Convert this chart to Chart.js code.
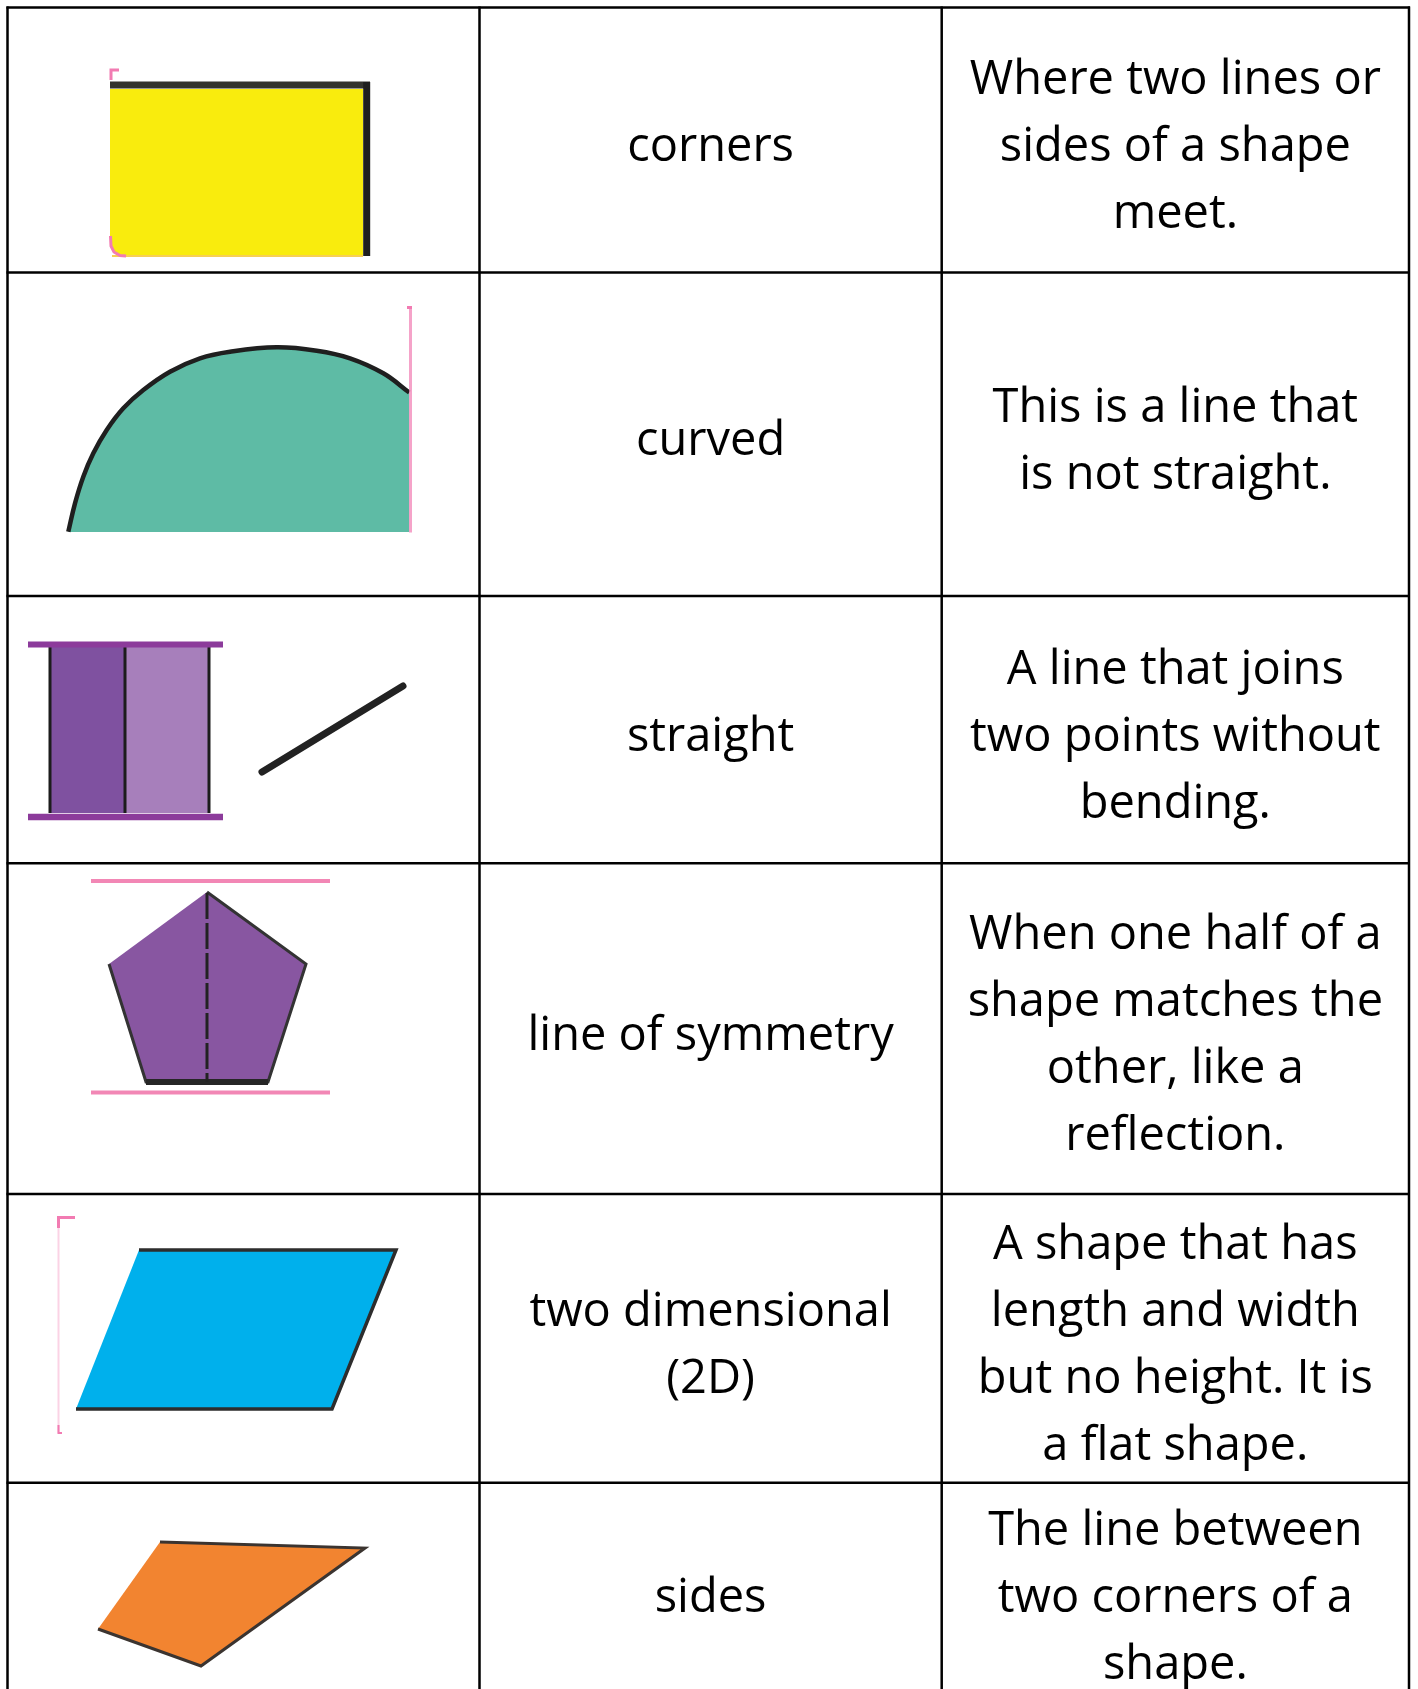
<!DOCTYPE html>
<html>
<head>
<meta charset="utf-8">
<script src="https://cdn.jsdelivr.net/npm/chart.js@4.4.0/dist/chart.umd.min.js"></script>
<style>
html, body { margin: 0; padding: 0; background: #fff; }
#wrap { position: relative; width: 1418px; height: 1689px; overflow: hidden; }
#sheet { position: absolute; left: 0; top: 0; }
.cell {
    position: absolute;
    box-sizing: border-box;
    padding-top: 7px;
    display: flex;
    align-items: center;
    justify-content: center;
    text-align: center;
    white-space: pre;
    font-family: "Open Sans", sans-serif;
    font-size: 47px;
    line-height: 67px;
    color: #000;
}
</style>
</head>
<body>
<div id="wrap"><canvas id="sheet" width="1418" height="1689"></canvas></div>
<script>
// table content
let terms = ["corners", "curved", "straight", "line of symmetry", "two dimensional\n(2D)", "sides"];
let definitions = [
    "Where two lines or\nsides of a shape\nmeet.",
    "This is a line that\nis not straight.",
    "A line that joins\ntwo points without\nbending.",
    "When one half of a\nshape matches the\nother, like a\nreflection.",
    "A shape that has\nlength and width\nbut no height. It is\na flat shape.",
    "The line between\ntwo corners of a\nshape."
];

// grid edges (page units)
let columnEdges = [7.5, 479.5, 941.7, 1409];
let rowEdges = [7.5, 272.6, 595.9, 863.2, 1193.9, 1482.7, 1700];

// picture column: outline points of each drawing
let cornerRect = [[110, 89], [363, 89], [363, 256], [122, 256], [114, 252], [111, 246], [110, 238]];
let curveArc = [[68.3, 531.7], [75, 503.3], [83.3, 476.7], [93.3, 453.3], [106.7, 430], [123.3, 408.3],
    [143.3, 390], [170, 371.7], [200, 358.3], [230, 351.7], [276.7, 347.3], [316.7, 350.7],
    [350, 358.3], [383.3, 373.3], [409.3, 392.5]];
let stripDark = [[50, 647], [125, 647], [125, 813], [50, 813]];
let stripLight = [[125, 647], [209, 647], [209, 813], [125, 813]];
let straightSegment = [[262, 772], [403, 686]];
let pentagon = [[207, 892], [306, 964], [268, 1082], [146, 1082], [109, 964]];
let parallelogram = [[139, 1250], [396, 1250], [332, 1409], [76, 1409]];
let quadrilateral = [[160, 1542], [365, 1548], [201, 1666], [98, 1629]];

let pts = arr => arr.map(p => ({ x: p[0], y: p[1] }));

function path(points, color, width, extra) {
    return Object.assign({
        data: pts(points),
        showLine: true,
        borderColor: color,
        borderWidth: width,
        pointRadius: 0,
        fill: false,
        tension: 0
    }, extra || {});
}
function shape(points, fillColor, lineColor, width) {
    return path(points, lineColor, width, { fill: "shape", backgroundColor: fillColor });
}

let datasets = [];

// table grid
columnEdges.forEach(x => datasets.push(path([[x, rowEdges[0] - 1], [x, rowEdges[rowEdges.length - 1] + 40]], "#000", 2.5)));
rowEdges.slice(0, -1).forEach(y => datasets.push(path([[columnEdges[0] - 1, y], [columnEdges[3] + 1, y]], "#000", 2.5)));

// corners
datasets.push(shape(cornerRect, "#F9EC0D", "rgba(0,0,0,0)", 0));
datasets.push(path([[112, 256], [363, 256]], "#F7CF55", 2));
datasets.push(path([[110, 85], [370, 85]], "#33332e", 7));
datasets.push(path([[366.7, 82], [366.7, 256]], "#1f1f1f", 7));
datasets.push(path([[111, 80], [111, 70], [119, 70]], "#F27BB2", 3));
datasets.push(path([[110.5, 236], [111, 246], [114, 252], [120, 255.5], [126, 256]], "#F27BB2", 3));

// curved
datasets.push(path(curveArc, "#1f1f1f", 4.5, { tension: 0.4, fill: { value: 532 }, backgroundColor: "#5EBBA5" }));
datasets.push(path([[410.5, 306], [410.5, 532.5]], "rgba(243,140,188,0.8)", 3));
datasets.push(path([[407, 307.5], [412, 307.5]], "#F27BB2", 3));

// straight
datasets.push(shape(stripDark, "#7F51A0", "rgba(0,0,0,0)", 0));
datasets.push(shape(stripLight, "#A77FBB", "rgba(0,0,0,0)", 0));
[50, 125, 209].forEach(x => datasets.push(path([[x, 647], [x, 813]], "#1c1c1c", 3)));
datasets.push(path([[28, 644.5], [223, 644.5]], "#8C3B9B", 6));
datasets.push(path([[28, 817], [223, 817]], "#8C3B9B", 6.5));
datasets.push(path(straightSegment, "#222", 7, { borderCapStyle: "round" }));

// line of symmetry
datasets.push(path([[91, 881], [330, 881]], "#F287B5", 4));
datasets.push(path([[91, 1092.5], [330, 1092.5]], "#F287B5", 4));
datasets.push(shape(pentagon, "#8856A1", "#333", 3));
datasets.push(path([[146, 1082], [268, 1082]], "#262626", 6));
datasets.push(path([[207, 893], [207, 1082]], "#222", 3, { borderDash: [26, 4] }));

// two dimensional
datasets.push(path([[58.5, 1216], [58.5, 1433]], "#FBD3E5", 2));
datasets.push(path([[58.5, 1228], [58.5, 1217.5], [75, 1217.5]], "#F27BB2", 3));
datasets.push(path([[58.5, 1425], [58.5, 1433], [62, 1433]], "#F27BB2", 2));
datasets.push(shape(parallelogram, "#00B0EC", "#2d2d2d", 3.5));

// sides
datasets.push(shape(quadrilateral, "#F28430", "#3b3430", 3));

// first pushed is painted first
datasets.reverse();

let sheet = new Chart(document.getElementById("sheet").getContext("2d"), {
    type: "scatter",
    data: { datasets: datasets },
    options: {
        responsive: false,
        animation: false,
        events: [],
        layout: { padding: 0 },
        scales: {
            x: { type: "linear", min: 0, max: 1418, display: false },
            y: { type: "linear", min: 0, max: 1689, reverse: true, display: false }
        },
        plugins: {
            legend: { display: false },
            tooltip: { enabled: false }
        }
    }
});

// text cells placed through the chart's scales
let wrap = document.getElementById("wrap");
let sx = sheet.scales.x, sy = sheet.scales.y;
function addCell(text, c, r) {
    let d = document.createElement("div");
    d.className = "cell";
    let left = sx.getPixelForValue(columnEdges[c]);
    let right = sx.getPixelForValue(columnEdges[c + 1]);
    let top = sy.getPixelForValue(rowEdges[r]);
    let bottom = sy.getPixelForValue(rowEdges[r + 1]);
    d.style.left = left + "px";
    d.style.top = top + "px";
    d.style.width = (right - left) + "px";
    d.style.height = (bottom - top) + "px";
    d.textContent = text;
    wrap.appendChild(d);
}
terms.forEach((t, r) => addCell(t, 1, r));
definitions.forEach((t, r) => addCell(t, 2, r));
</script>
</body>
</html>
